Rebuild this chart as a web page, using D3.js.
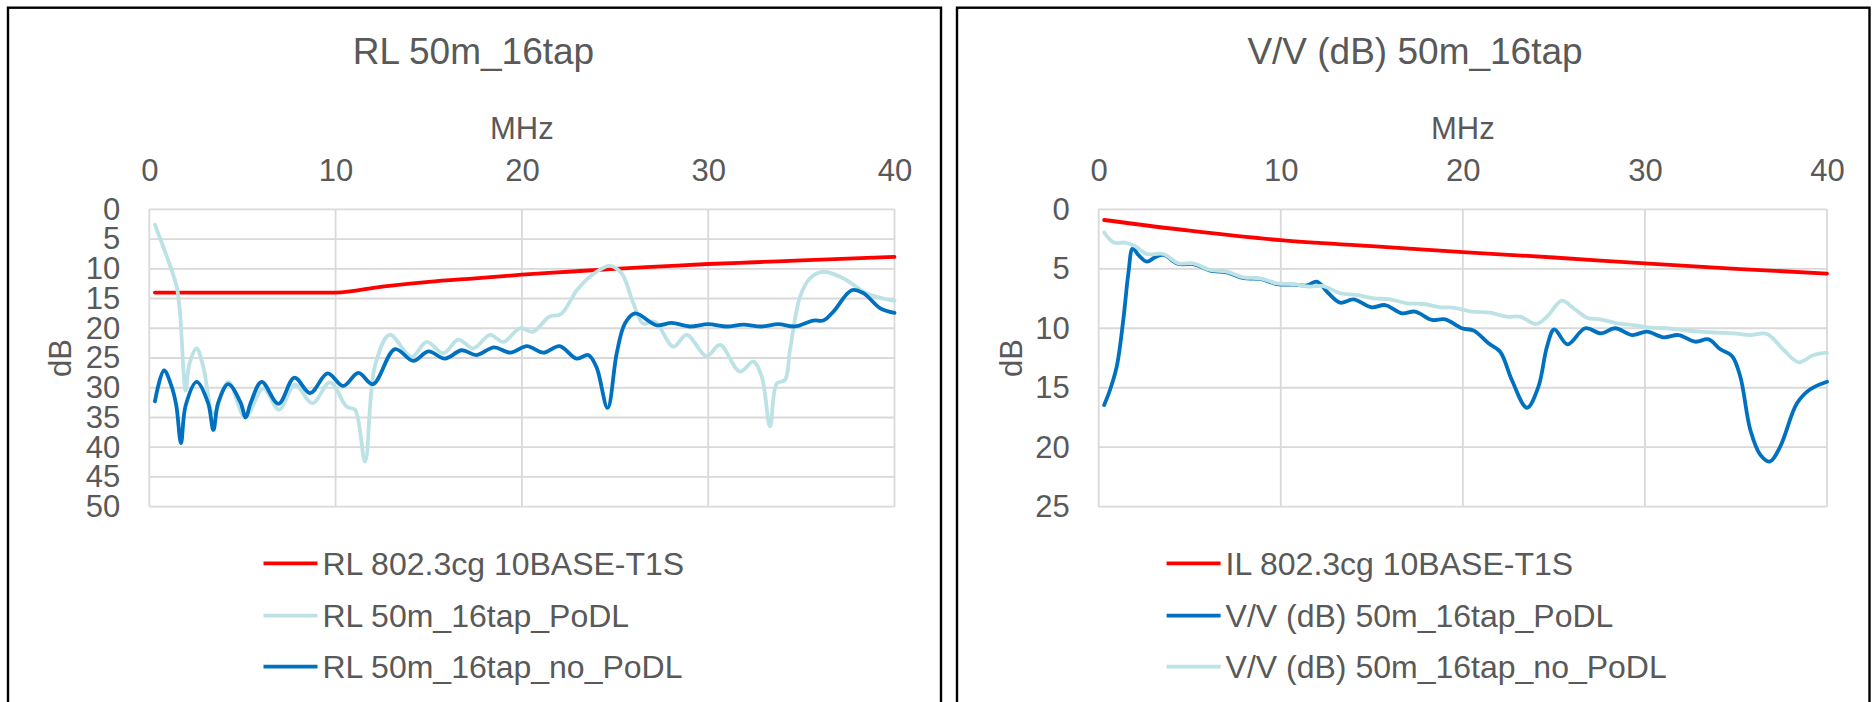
<!DOCTYPE html>
<html>
<head>
<meta charset="utf-8">
<script src="https://cdn.jsdelivr.net/npm/d3@7/dist/d3.min.js"></script>
<style>
  html, body { margin: 0; padding: 0; background: #ffffff; }
  svg { display: block; }
  text { font-family: "Liberation Sans", Arial, sans-serif; fill: #595959; }
</style>
</head>
<body>
<svg id="chart" width="1875" height="702"></svg>
<script>
// ---------- Return loss (RL) panel data ----------
const rlTicksX = [0, 10, 20, 30, 40];
const rlTicksY = [0, 5, 10, 15, 20, 25, 30, 35, 40, 45, 50];

const rlLimitMHz = [0.3, 10, 12.5, 15, 17.5, 20, 22.5, 25, 27.5, 30, 32.5, 35, 37.5, 40];
const rlLimitDb  = [14, 14, 13.0, 12.2, 11.6, 11.0, 10.5, 10.0, 9.6, 9.2, 8.9, 8.6, 8.3, 8.0];

const rlPodlMHz = [0.3, 0.9, 1.47, 1.65, 1.95, 2.15, 2.54, 2.9, 3.44, 4.24, 5.14, 6.12, 6.96, 7.82, 8.75, 9.7,
  10.6, 11.04, 11.58, 12.1, 12.9, 14.08, 14.89, 15.78, 16.59, 17.39, 18.29, 19.0, 19.9, 20.6, 21.45, 22.1,
  23.0, 24.0, 24.73, 25.36, 25.98, 26.5, 27.14, 28.13, 28.84, 29.92, 30.63, 31.7, 32.42, 32.87, 33.32,
  33.68, 34.12, 34.39, 34.93, 35.46, 36.18, 37.25, 38.5, 40];
const rlPodlDb = [2.6, 7.6, 13.0, 17.5, 30.5, 26.0, 23.4, 26.5, 34.3, 29.0, 34.9, 30.1, 33.7, 29.5, 32.6, 29.1,
  33.2, 33.7, 42.4, 26.5, 21.1, 24.8, 22.3, 24.2, 21.9, 23.4, 21.1, 22.3, 20.0, 20.6, 18.1, 17.6,
  13.4, 10.5, 9.5, 10.8, 15.8, 19.2, 18.9, 23.1, 21.1, 24.7, 22.8, 27.3, 25.6, 28.1, 36.5,
  29.3, 28.7, 23.7, 14.7, 11.6, 10.5, 11.6, 14.1, 15.4];

const rlNoPodlMHz = [0.3, 0.79, 1.2, 1.45, 1.7, 1.95, 2.54, 3.15, 3.44, 3.7, 4.24, 4.9, 5.17, 5.45, 6.03, 6.93,
  7.79, 8.63, 9.57, 10.41, 11.22, 12.0, 13.19, 14.17, 14.98, 15.87, 16.77, 17.57, 18.5, 19.38, 20.27,
  21.15, 22.02, 22.94, 23.56, 24.0, 24.6, 25.09, 25.53, 26.07, 27.24, 28.04, 29.02, 30.0, 30.99, 31.88,
  32.87, 33.76, 34.66, 35.64, 36.18, 36.72, 37.7, 38.33, 39.22, 40];
const rlNoPodlDb = [32.3, 27.1, 29.8, 33.0, 39.3, 33.0, 29.0, 32.5, 37.1, 32.5, 29.4, 32.5, 35.0, 32.5, 29.0, 32.7,
  28.3, 30.9, 27.6, 29.7, 27.5, 29.4, 23.5, 25.5, 23.9, 25.1, 23.7, 24.5, 23.2, 24.1, 23.0,
  24.1, 23.0, 25.1, 24.5, 26.5, 33.4, 24.2, 19.2, 17.5, 19.5, 19.1, 19.7, 19.3, 19.7, 19.4,
  19.7, 19.3, 19.7, 18.7, 18.7, 17.2, 13.6, 14.1, 16.6, 17.4];

// ---------- Voltage transfer (V/V) panel data ----------
const vvTicksX = [0, 10, 20, 30, 40];
const vvTicksY = [0, 5, 10, 15, 20, 25];

const ilLimitMHz = [0.3, 5, 10, 15, 20, 25, 30, 35, 40];
const ilLimitDb  = [0.9, 1.8, 2.6, 3.1, 3.6, 4.05, 4.55, 5.0, 5.4];

const vvPodlMHz = [0.3, 0.62, 0.99, 1.35, 1.63, 1.87, 2.18, 2.64, 3.09, 3.55, 4.38, 5.2, 6.12, 7.03, 7.95, 8.86,
  9.78, 10.69, 11.45, 11.98, 12.62, 13.26, 13.99, 15.0, 15.73, 16.65, 17.38, 18.3, 19.03, 19.95, 20.6,
  21.41, 22.05, 22.69, 23.52, 24.15, 24.62, 25.02, 25.75, 26.72, 27.58, 28.37, 29.29, 30.11, 31.02,
  31.85, 32.76, 33.5, 34.14, 34.78, 35.24, 35.79, 36.34, 36.85, 37.43, 38.35, 39.08, 40];
const vvPodlDb = [16.45, 15.19, 13.23, 9.3, 5.38, 3.28, 3.84, 4.4, 4.04, 3.84, 4.6, 4.6, 5.15, 5.3, 5.78, 5.85,
  6.28, 6.33, 6.4, 6.08, 7.06, 7.85, 7.57, 8.24, 8.05, 8.74, 8.6, 9.3, 9.25, 10.0, 10.2,
  11.27, 11.97, 14.35, 16.68, 14.91, 11.55, 10.09, 11.35, 10.0, 10.43, 10.0, 10.57, 10.29, 10.76,
  10.57, 11.13, 10.93, 11.77, 12.33, 14.07, 18.55, 20.65, 21.21, 19.95, 16.31, 15.13, 14.49];

const vvNoPodlMHz = [0.3, 0.84, 1.45, 1.99, 2.64, 3.55, 4.38, 5.2, 6.12, 7.03, 7.95, 8.86, 9.78, 10.69, 11.61,
  12.34, 13.26, 14.17, 15.09, 16.0, 16.92, 17.84, 18.75, 19.48, 20.5, 21.5, 22.42, 23.15, 24.03, 24.62,
  25.44, 26.08, 26.81, 27.54, 28.46, 29.37, 30.29, 31.21, 32.12, 33.04, 33.96, 34.87, 35.79, 36.7,
  37.62, 38.44, 39.26, 40];
const vvNoPodlDb = [1.96, 2.8, 2.8, 3.1, 3.76, 3.76, 4.54, 4.54, 5.1, 5.24, 5.72, 5.8, 6.22, 6.28, 6.5,
  6.45, 7.06, 7.2, 7.48, 7.57, 7.9, 7.96, 8.24, 8.27, 8.6, 8.69, 9.03, 9.03, 9.64, 9.03,
  7.68, 8.32, 9.11, 9.25, 9.58, 9.73, 9.95, 10.0, 10.15, 10.29, 10.37, 10.43, 10.57, 10.48,
  11.83, 12.86, 12.25, 12.05];

const RED = "#ff0000", LIGHT = "#bce2e6", DARK = "#0070c0";

const svg = d3.select("#chart");
svg.append("rect").attr("width", 1875).attr("height", 702).attr("fill", "#ffffff");

function zip(xs, ys) { return xs.map((x, i) => ({ x, y: ys[i] })); }

function drawPanel(cfg) {
  const g = svg.append("g");

  // outer frame (runs past the bottom edge of the page)
  g.append("rect")
    .attr("x", cfg.frame.x0).attr("y", cfg.frame.y0)
    .attr("width", cfg.frame.x1 - cfg.frame.x0).attr("height", 740)
    .attr("fill", "none").attr("stroke", "#000").attr("stroke-width", 2.4);

  const x = d3.scaleLinear().domain([0, 40]).range([cfg.plot.x0, cfg.plot.x1]);
  const y = d3.scaleLinear().domain([0, cfg.yMax]).range([cfg.plot.y0, cfg.plot.y1]);

  // gridlines
  g.append("g").selectAll("line").data(cfg.ticksY).join("line")
    .attr("x1", cfg.plot.x0).attr("x2", cfg.plot.x1)
    .attr("y1", d => y(d)).attr("y2", d => y(d))
    .attr("stroke", "#d9d9d9").attr("stroke-width", 1.8);
  g.append("g").selectAll("line").data(cfg.ticksX).join("line")
    .attr("y1", cfg.plot.y0).attr("y2", cfg.plot.y1)
    .attr("x1", d => x(d)).attr("x2", d => x(d))
    .attr("stroke", "#d9d9d9").attr("stroke-width", 1.8);

  // axes (top frequency axis, left dB axis)
  const ax = g.append("g").attr("transform", `translate(0,${cfg.plot.y0})`)
    .call(d3.axisTop(x).tickValues(cfg.ticksX).tickSize(0).tickPadding(28).tickFormat(d3.format("d")));
  const ay = g.append("g").attr("transform", `translate(${cfg.plot.x0},0)`)
    .call(d3.axisLeft(y).tickValues(cfg.ticksY).tickSize(0).tickPadding(29).tickFormat(d3.format("d")));
  [ax, ay].forEach(a => {
    a.select(".domain").remove();
    a.selectAll("text").attr("font-size", 31).attr("fill", "#595959")
      .attr("font-family", '"Liberation Sans", Arial, sans-serif');
  });

  // titles
  g.append("text").attr("x", cfg.titleX).attr("y", 64).attr("text-anchor", "middle")
    .attr("font-size", 37).text(cfg.title);
  g.append("text").attr("x", (cfg.plot.x0 + cfg.plot.x1) / 2).attr("y", 139).attr("text-anchor", "middle")
    .attr("font-size", 31).text("MHz");
  g.append("text")
    .attr("transform", `translate(${cfg.dbX},${(cfg.plot.y0 + cfg.plot.y1) / 2}) rotate(-90)`)
    .attr("text-anchor", "middle").attr("dy", "0.36em").attr("font-size", 31).text("dB");

  // series
  const line = d3.line().x(d => x(d.x)).y(d => y(d.y));
  cfg.series.forEach(s => {
    g.append("path")
      .attr("d", line.curve(s.curve)(zip(s.mhz, s.db)))
      .attr("fill", "none").attr("stroke", s.color).attr("stroke-width", 3.8)
      .attr("stroke-linejoin", "round").attr("stroke-linecap", "round");
  });

  // legend
  const rows = [563.3, 615.7, 666.7];
  cfg.legend.forEach((s, i) => {
    g.append("line").attr("x1", cfg.legendX).attr("x2", cfg.legendX + 54)
      .attr("y1", rows[i]).attr("y2", rows[i]).attr("stroke", s.color).attr("stroke-width", 3.8);
    g.append("text").attr("x", cfg.legendX + 59).attr("y", rows[i]).attr("dy", "0.36em")
      .attr("font-size", 32).text(s.name);
  });
}

const smooth = d3.curveCatmullRom.alpha(0.5);

const rlRed   = { name: "RL 802.3cg 10BASE-T1S", color: RED, mhz: rlLimitMHz, db: rlLimitDb, curve: d3.curveMonotoneX };
const rlLight = { name: "RL 50m_16tap_PoDL", color: LIGHT, mhz: rlPodlMHz, db: rlPodlDb, curve: smooth };
const rlDark  = { name: "RL 50m_16tap_no_PoDL", color: DARK, mhz: rlNoPodlMHz, db: rlNoPodlDb, curve: smooth };

drawPanel({
  frame: { x0: 8, y0: 7.7, x1: 941 },
  plot: { x0: 149.3, x1: 894.5, y0: 209.3, y1: 506.7 },
  yMax: 50, ticksX: rlTicksX, ticksY: rlTicksY,
  title: "RL 50m_16tap", titleX: 473.5, dbX: 60, legendX: 263.5,
  series: [rlRed, rlLight, rlDark],
  legend: [rlRed, rlLight, rlDark]
});

const vvRed   = { name: "IL 802.3cg 10BASE-T1S", color: RED, mhz: ilLimitMHz, db: ilLimitDb, curve: d3.curveMonotoneX };
const vvDark  = { name: "V/V (dB) 50m_16tap_PoDL", color: DARK, mhz: vvPodlMHz, db: vvPodlDb, curve: smooth };
const vvLight = { name: "V/V (dB) 50m_16tap_no_PoDL", color: LIGHT, mhz: vvNoPodlMHz, db: vvNoPodlDb, curve: smooth };

drawPanel({
  frame: { x0: 957, y0: 7.7, x1: 1869.5 },
  plot: { x0: 1098.7, x1: 1827, y0: 209.3, y1: 506.7 },
  yMax: 25, ticksX: vvTicksX, ticksY: vvTicksY,
  title: "V/V (dB) 50m_16tap", titleX: 1415, dbX: 1011, legendX: 1166.6,
  series: [vvRed, vvDark, vvLight],
  legend: [vvRed, vvDark, vvLight]
});
</script>
</body>
</html>
